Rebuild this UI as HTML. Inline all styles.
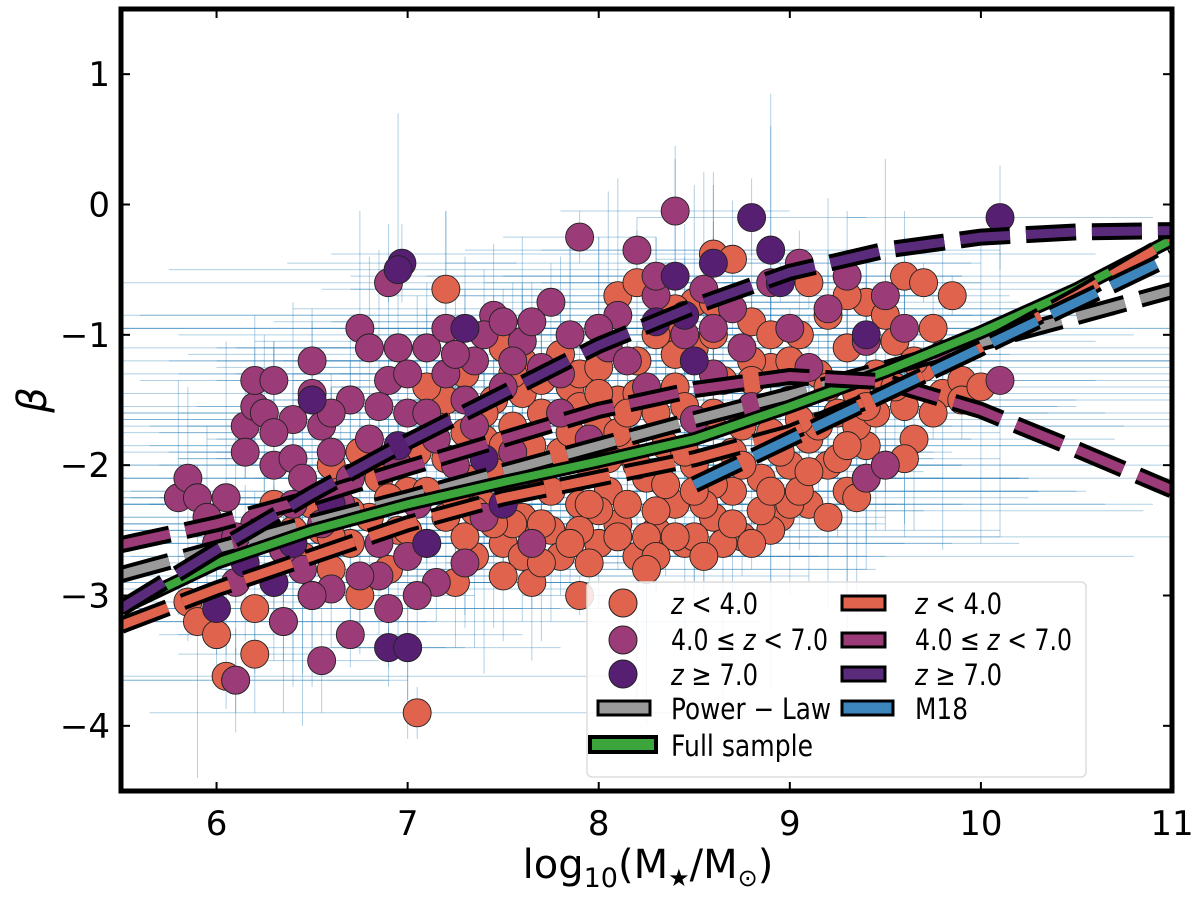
<!DOCTYPE html>
<html><head><meta charset="utf-8"><style>
html,body{margin:0;padding:0;background:#fff}
svg text{font-family:"DejaVu Sans","Liberation Sans",sans-serif}
</style></head><body>
<svg id="chart" width="1200" height="894" viewBox="0 0 1200 894" xmlns="http://www.w3.org/2000/svg">
<g id="errs"></g>
<g id="pts"></g>
<g id="lines"></g>
<g id="axes"></g>
</svg>
<script>
const xDomain=[5.5,11], yDomain=[1.5,-4.5];
const xTicks=[6,7,8,9,10,11];
const yTicks=[1,0,-1,-2,-3,-4];
const ptsLow=[[5.85,-3.05],[5.9,-3.2],[6.0,-3.3],[6.05,-3.62],[6.1,-3.65],[6.2,-3.45],[6.2,-3.1],[6.3,-2.9],[6.35,-3.2],[6.45,-2.7],[6.5,-3.0],[6.55,-2.5],[6.6,-2.8],[6.4,-2.5],[6.3,-2.3],[6.6,-2.2],[6.7,-2.6],[6.75,-3.0],[6.8,-2.4],[6.85,-2.1],[6.9,-2.8],[6.95,-2.5],[7.0,-3.4],[7.05,-3.9],[7.0,-2.2],[7.05,-1.9],[7.1,-2.6],[7.15,-1.65],[7.2,-1.5],[7.2,-2.4],[7.25,-2.9],[7.2,-0.65],[7.3,-2.1],[7.3,-1.3],[7.35,-2.7],[7.4,-1.8],[7.4,-2.3],[7.45,-1.5],[7.5,-2.6],[7.5,-2.0],[7.55,-1.7],[7.6,-2.4],[7.6,-1.2],[7.65,-2.9],[7.7,-2.1],[7.7,-1.6],[7.75,-2.5],[7.8,-1.9],[7.8,-2.7],[7.85,-1.4],[7.9,-3.0],[7.9,-2.3],[7.9,-1.3],[7.95,-2.0],[8.0,-2.6],[8.0,-1.7],[8.05,-2.2],[8.1,-0.7],[8.1,-1.5],[8.1,-2.45],[8.15,-1.9],[8.2,-2.7],[8.2,-1.2],[8.25,-2.1],[8.3,-1.6],[8.3,-2.5],[8.35,-0.95],[8.35,-1.85],[8.4,-2.3],[8.4,-1.4],[8.45,-2.6],[8.5,-2.0],[8.5,-1.1],[8.55,-1.7],[8.6,-2.4],[8.6,-0.38],[8.65,-1.35],[8.7,-0.42],[8.7,-2.2],[8.7,-1.9],[8.75,-2.55],[8.8,-1.55],[8.8,-0.9],[8.85,-2.1],[8.9,-1.25],[8.9,-1.75],[8.95,-2.4],[9.0,-1.5],[9.0,-2.0],[9.05,-1.0],[9.1,-1.8],[9.1,-2.3],[9.15,-1.3],[9.2,-0.85],[9.2,-2.0],[9.25,-1.6],[9.3,-1.1],[9.3,-2.2],[9.35,-1.45],[9.4,-1.85],[9.4,-0.75],[9.45,-1.3],[9.5,-2.0],[9.55,-1.05],[9.6,-0.55],[9.6,-1.55],[9.65,-1.8],[9.7,-1.25],[9.75,-0.95],[9.8,-1.45],[9.85,-1.15],[9.9,-1.35],[8.5,-2.55],[8.0,-2.35],[7.6,-2.7],[7.3,-2.55],[8.2,-2.0],[8.6,-1.6],[9.0,-2.3],[8.3,-2.35],[7.9,-2.5],[8.9,-2.5],[8.4,-2.55],[8.1,-2.55],[7.7,-2.45],[8.6,-2.15],[9.4,-2.1],[9.6,-1.95],[8.8,-1.2],[8.5,-0.75],[8.0,-0.95],[7.5,-1.1],
[7.35,-2.35],[7.45,-2.05],[7.55,-2.45],[7.65,-1.85],[7.75,-2.2],[7.85,-2.6],[7.95,-2.3],[8.05,-1.95],[8.15,-2.3],[8.25,-2.55],[8.35,-2.15],[8.45,-1.9],[8.55,-2.3],[8.65,-2.6],[8.75,-2.0],[8.85,-2.35],[8.95,-1.9],[9.05,-2.2],[9.15,-1.7],[9.25,-1.95],[9.35,-1.7],[9.45,-1.6],[9.55,-1.4],[9.65,-1.2],[7.4,-1.6],[7.6,-1.45],[7.8,-1.15],[8.0,-1.25],[8.2,-1.45],[8.4,-1.15],[8.6,-1.0],[8.8,-1.35],[9.0,-1.2],[9.2,-1.4],[9.4,-1.55],[7.2,-1.95],[7.0,-2.5],[6.9,-2.25],[6.7,-2.35],[6.5,-2.3],[6.6,-2.55],[7.1,-2.2],[7.5,-2.85],[7.7,-2.75],[8.3,-2.7],[8.5,-2.2],[8.7,-2.45],[8.9,-2.2],[9.1,-2.05],[9.3,-1.85],[8.1,-1.75],[7.9,-1.55],[7.7,-1.35],[7.5,-1.85],[7.3,-1.75],[7.1,-1.4],[8.3,-1.0],[8.6,-0.75],[8.9,-1.0],[9.1,-0.6],[9.3,-0.7],[9.5,-0.85],[9.7,-0.6],[8.4,-0.8],[8.2,-0.6],[8.0,-1.45],[8.45,-1.55],[8.75,-1.7],[9.05,-1.65],[9.35,-2.25],[9.2,-2.4],[8.8,-2.6],[8.55,-2.7],[8.25,-2.8],[7.95,-2.75],[7.45,-2.45],[7.25,-2.25],[6.95,-2.0],[6.75,-1.9],[6.6,-2.0],[7.55,-1.3],[7.85,-1.75],[8.15,-1.6],[9.75,-1.6],[9.9,-1.5],[10.0,-1.4],[9.85,-0.7]];
const ptsMid=[[5.8,-2.25],[5.85,-2.1],[5.9,-2.25],[6.0,-2.6],[6.05,-2.25],[6.1,-2.9],[6.1,-3.65],[6.15,-1.7],[6.2,-1.55],[6.2,-1.35],[6.25,-1.6],[6.3,-1.35],[6.3,-2.0],[6.35,-3.2],[6.4,-1.95],[6.4,-2.3],[6.45,-2.8],[6.5,-1.45],[6.55,-1.7],[6.55,-3.5],[6.6,-2.95],[6.6,-1.9],[6.65,-2.3],[6.7,-1.5],[6.75,-0.95],[6.8,-1.1],[6.8,-1.8],[6.85,-2.6],[6.9,-1.35],[6.9,-0.6],[6.95,-2.0],[7.0,-1.6],[7.05,-2.3],[7.1,-1.1],[7.15,-1.8],[7.15,-2.9],[7.2,-0.95],[7.25,-2.0],[7.3,-1.5],[7.35,-1.2],[7.4,-2.4],[7.45,-0.85],[7.5,-1.4],[7.55,-1.9],[7.6,-1.05],[7.65,-2.6],[7.7,-1.25],[7.75,-0.75],[7.8,-1.6],[7.85,-1.0],[7.9,-0.25],[7.95,-1.8],[8.05,-1.1],[8.1,-0.85],[8.2,-0.35],[8.25,-1.4],[8.3,-0.7],[8.4,-0.05],[8.45,-1.0],[8.5,-1.65],[8.55,-0.65],[8.6,-1.3],[8.7,-0.8],[8.8,-1.55],[8.9,-0.6],[9.0,-0.95],[9.05,-0.45],[9.1,-1.25],[9.2,-0.8],[9.3,-0.55],[9.4,-1.05],[9.5,-0.7],[9.6,-0.95],[9.4,-2.1],[9.5,-2.0],[9.8,-1.15],[10.1,-1.35],[7.0,-2.7],[6.7,-3.3],[6.5,-3.0],[6.85,-2.85],[7.3,-2.75],[6.25,-2.5],[7.2,-1.3],[6.4,-1.65],
[6.3,-1.75],[6.45,-2.1],[6.6,-1.6],[6.7,-2.1],[6.95,-1.1],[7.0,-1.3],[7.1,-1.6],[7.25,-1.15],[7.4,-1.0],[7.55,-1.2],[7.65,-0.9],[7.8,-1.3],[8.0,-0.95],[8.15,-1.2],[8.3,-0.55],[8.6,-0.95],[8.75,-1.1],[6.2,-2.45],[6.35,-2.65],[6.55,-2.45],[6.75,-2.85],[6.9,-3.1],[7.05,-3.0],[6.1,-2.55],[5.95,-2.4],[6.15,-1.9],[6.5,-1.2],[6.85,-1.55],[7.35,-1.7],[7.5,-0.9]];
const ptsHigh=[[6.0,-3.1],[6.15,-2.75],[6.3,-2.9],[6.4,-2.6],[6.5,-1.5],[6.6,-2.3],[6.97,-0.45],[6.95,-0.5],[6.9,-3.4],[6.95,-1.85],[7.0,-3.4],[7.1,-2.6],[7.4,-1.95],[7.5,-2.3],[7.3,-0.95],[8.4,-0.55],[8.45,-0.85],[8.6,-0.45],[8.8,-0.1],[8.9,-0.35],[8.95,-0.6],[8.3,-0.9],[10.1,-0.1],[9.4,-1.0],[8.5,-1.2]];
const xErr=[0.6,1.2,0.3,2.0,0.8,0.4,1.6,0.5,2.5,0.9,0.3,1.4];
const yErr=[0.3,0.6,0.15,0.9,0.4,0.2,0.5,1.2,0.3,0.25,0.7,0.45];
const fitX=[5.5,6,6.5,7,7.5,8,8.5,9,9.5,10,10.5,11];
const fitFull=[-3.1,-2.75,-2.5,-2.3,-2.13,-1.97,-1.8,-1.55,-1.28,-0.98,-0.65,-0.27];
const fitLow=[-3.23,-2.95,-2.7,-2.45,-2.25,-2.1,-1.95,-1.75,-1.45,-1.1,-0.7,-0.27];
const fitMid=[-2.61,-2.45,-2.25,-2.02,-1.8,-1.58,-1.42,-1.32,-1.36,-1.58,-1.88,-2.19];
const fitHigh=[-3.1,-2.65,-2.22,-1.82,-1.45,-1.08,-0.78,-0.52,-0.35,-0.25,-0.21,-0.2];
const fitPow=[-2.84,-2.64,-2.44,-2.25,-2.05,-1.85,-1.65,-1.46,-1.26,-1.06,-0.86,-0.66];
const m18X=[8.5,9,9.5,10,10.5,11];
const m18Y=[-2.15,-1.8,-1.45,-1.1,-0.75,-0.4];

const L=121,R=1172,T=9,B=791;
const X=v=>L+(v-xDomain[0])/(xDomain[1]-xDomain[0])*(R-L);
const Y=v=>T+(v-yDomain[0])/(yDomain[1]-yDomain[0])*(B-T);
const NS="http://www.w3.org/2000/svg";
function mk(tag,attrs,parent){const e=document.createElementNS(NS,tag);for(const k in attrs)e.setAttribute(k,attrs[k]);parent.appendChild(e);return e;}
const errs=document.getElementById('errs'),pts=document.getElementById('pts'),lines=document.getElementById('lines'),axes=document.getElementById('axes');
const groups=[[ptsLow,'#e0634d','low'],[ptsMid,'#9b3b78','mid'],[ptsHigh,'#561f72','high']];
let k=0;
groups.forEach(([arr,col,nm])=>{arr.forEach((p,i)=>{
  const ex=xErr[(i+k)%xErr.length],ey=yErr[(i*7+k)%yErr.length];
  const h=mk('line',{x1:X(Math.max(p[0]-ex,5.5)),x2:X(Math.min(p[0]+ex,11)),y1:Y(p[1]),y2:Y(p[1]),stroke:'#1f77b4','stroke-opacity':0.35,'stroke-width':1},errs);
  
  
  const v=mk('line',{x1:X(p[0]),x2:X(p[0]),y1:Y(p[1]-ey),y2:Y(p[1]+ey),stroke:'#1f77b4','stroke-opacity':0.35,'stroke-width':1},errs);
  
  
});k+=3;});
groups.forEach(([arr,col,nm])=>{arr.forEach(p=>{
  const c=mk('circle',{cx:X(p[0]),cy:Y(p[1]),r:14,fill:col,stroke:'#222','stroke-width':0.9},pts);
  
  
});});
function pathD(xs,ys){return xs.map((x,i)=>(i?'L':'M')+X(x).toFixed(1)+','+Y(ys[i]).toFixed(1)).join(' ');}
function dashed(xs,ys,col,nm){
  const b=mk('path',{d:pathD(xs,ys),fill:'none',stroke:'#000','stroke-width':17,'stroke-dasharray':'50 16'},lines);
  
  
  const c=mk('path',{d:pathD(xs,ys),fill:'none',stroke:col,'stroke-width':9,'stroke-dasharray':'50 16'},lines);
  
  
}
dashed(fitX,fitPow,'#9a9a9a','power-law-line');
const g1=mk('path',{d:pathD(fitX,fitFull),fill:'none',stroke:'#000','stroke-width':14},lines);


const g2=mk('path',{d:pathD(fitX,fitFull),fill:'none',stroke:'#3ca53c','stroke-width':8},lines);


dashed(fitX,fitLow,'#e0634d','fit-low-z');
dashed(fitX,fitMid,'#9b3b78','fit-mid-z');
dashed(fitX,fitHigh,'#5a2b7a','fit-high-z');
dashed(m18X,m18Y,'#3d86bd','m18-line');
[[0,0,1200,T],[0,B,1200,894-B],[0,0,L,894],[R,0,1200-R,894]].forEach(r=>{const e=mk('rect',{x:r[0],y:r[1],width:r[2],height:r[3],fill:'#fff'},axes);

});
const fr=mk('rect',{x:L,y:T,width:R-L,height:B-T,fill:'none',stroke:'#000','stroke-width':5},axes);


xTicks.forEach(t=>{
  [[B,B-9],[T,T+9]].forEach(([a,b])=>{const l=mk('line',{x1:X(t),x2:X(t),y1:a,y2:b,stroke:'#000','stroke-width':2},axes);
  
  });
  const tx=mk('text',{x:X(t),y:835,'font-size':34,'text-anchor':'middle'},axes);tx.textContent=t;
  
  
});
yTicks.forEach(t=>{
  [[L,L+9],[R,R-9]].forEach(([a,b])=>{const l=mk('line',{x1:a,x2:b,y1:Y(t),y2:Y(t),stroke:'#000','stroke-width':2},axes);
  
  });
  const tx=mk('text',{x:110,y:Y(t)+12,'font-size':34,'text-anchor':'end'},axes);tx.textContent=(t<0?'\u2212'+(-t):t);
  
  
});
</script>
<svg style="position:absolute;left:0;top:0" width="1200" height="894">
<text x="648" y="878" font-size="40" text-anchor="middle" font-family="DejaVu Sans, sans-serif">log<tspan font-size="27" dy="9">10</tspan><tspan dy="-9">(M</tspan><tspan font-size="24" dy="8">★</tspan><tspan dy="-8">/M</tspan><tspan font-size="24" dy="8">⊙</tspan><tspan dy="-8">)</tspan></text>
<text transform="translate(46,400) rotate(-90)" font-size="40" font-style="italic" text-anchor="middle" font-family="DejaVu Sans, sans-serif">β</text>
<g font-family="DejaVu Sans, sans-serif" font-size="29">
<rect x="587" y="582" width="499" height="195" rx="5" fill="#fff" fill-opacity="0.85" stroke="#ddd" stroke-width="1.5"/>
<g><circle cx="623" cy="603" r="14" fill="#e0634d" stroke="#222"/><text x="671" y="614" textLength="87" lengthAdjust="spacingAndGlyphs"><tspan font-style="italic">z</tspan> &lt; 4.0</text></g>
<g><circle cx="623" cy="640" r="14" fill="#9b3b78" stroke="#222"/><text x="671" y="650" textLength="157" lengthAdjust="spacingAndGlyphs">4.0 ≤ <tspan font-style="italic">z</tspan> &lt; 7.0</text></g>
<g><circle cx="623" cy="674" r="14" fill="#561f72" stroke="#222"/><text x="671" y="685" textLength="87" lengthAdjust="spacingAndGlyphs"><tspan font-style="italic">z</tspan> ≥ 7.0</text></g>
<g><rect x="598" y="701" width="52" height="14" fill="#9a9a9a" stroke="#000" stroke-width="3"/><text x="671" y="719" textLength="160" lengthAdjust="spacingAndGlyphs">Power − Law</text></g>
<g><rect x="590" y="737" width="66" height="15" fill="#3ca53c" stroke="#000" stroke-width="4"/><text x="671" y="756" textLength="142" lengthAdjust="spacingAndGlyphs">Full sample</text></g>
<g><rect x="842" y="596" width="43" height="14" fill="#e0634d" stroke="#000" stroke-width="3"/><text x="915" y="614" textLength="87" lengthAdjust="spacingAndGlyphs"><tspan font-style="italic">z</tspan> &lt; 4.0</text></g>
<g><rect x="842" y="633" width="43" height="14" fill="#9b3b78" stroke="#000" stroke-width="3"/><text x="915" y="650" textLength="157" lengthAdjust="spacingAndGlyphs">4.0 ≤ <tspan font-style="italic">z</tspan> &lt; 7.0</text></g>
<g><rect x="842" y="667" width="43" height="14" fill="#5a2b7a" stroke="#000" stroke-width="3"/><text x="915" y="685" textLength="87" lengthAdjust="spacingAndGlyphs"><tspan font-style="italic">z</tspan> ≥ 7.0</text></g>
<g><rect x="842" y="701" width="51" height="14" fill="#3d86bd" stroke="#000" stroke-width="3"/><text x="915" y="719" textLength="53" lengthAdjust="spacingAndGlyphs">M18</text></g>
</g>
</svg>
</body></html>
